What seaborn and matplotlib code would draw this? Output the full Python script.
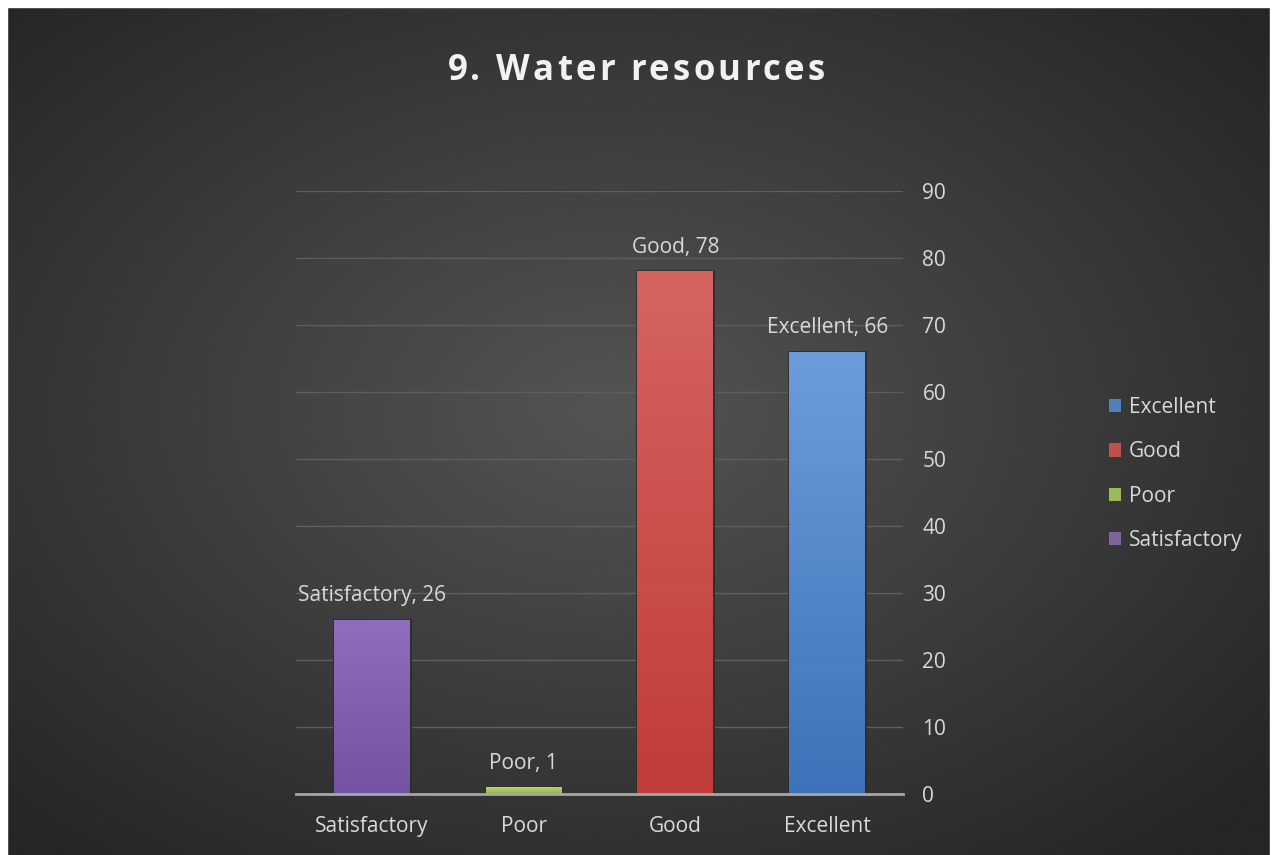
"""
Water resources rating - bar chart recreation
"""
import numpy as np
import pandas as pd
import matplotlib
matplotlib.use("Agg")
import matplotlib.pyplot as plt
from matplotlib.patches import Patch, Rectangle
import seaborn as sns

# data
categories = ["Satisfactory", "Poor", "Good", "Excellent"]
counts = [26, 1, 78, 66]
legend_order = ["Excellent", "Good", "Poor", "Satisfactory"]
y_ticks = [0, 10, 20, 30, 40, 50, 60, 70, 80, 90]
title = "9. Water resources"

# top / bottom colours of each bar's gradient
top_colors = {"Satisfactory": "#906dbe", "Poor": "#b8d26c", "Good": "#d5645f", "Excellent": "#6c9cda"}
bottom_colors = {"Satisfactory": "#7453a0", "Poor": "#94b54f", "Good": "#c03d39", "Excellent": "#3e73b9"}
flat_colors = {"Satisfactory": "#8064a2", "Poor": "#9bbb59", "Good": "#c0504d", "Excellent": "#4f81bd"}

TEXT = "#d9d9d9"
FS = 15

sns.set_theme(style="dark")
plt.rcParams["font.family"] = ["Open Sans", "DejaVu Sans"]

fig = plt.figure(figsize=(12.73, 8.55), dpi=100)
fig.patch.set_facecolor("#262626")

# background with radial gradient
bg = fig.add_axes([0, 0, 1, 1], zorder=-10)
yy, xx = np.mgrid[0:1:300j, 0:1:450j]
r = np.sqrt(((xx - 0.48) / 0.75) ** 2 + ((yy - 0.52) / 0.75) ** 2)
shade = np.clip(0.33 - 0.19 * r / 0.95, 0.15, 0.33)
bg.imshow(shade, cmap="gray", vmin=0, vmax=1, aspect="auto", extent=[0, 1, 0, 1],
          interpolation="bicubic", origin="lower")
bg.set_xlim(0, 1)
bg.set_ylim(0, 1)
bg.set_axis_off()
# thin white margin on top, left and right
fig.patches.append(Rectangle((0, 848 / 855), 1, 7 / 855, transform=fig.transFigure, color="white", zorder=5))
fig.patches.append(Rectangle((0, 0), 7 / 1273, 1, transform=fig.transFigure, color="white", zorder=5))
fig.patches.append(Rectangle((1270 / 1273, 0), 3 / 1273, 1, transform=fig.transFigure, color="white", zorder=5))

df = pd.DataFrame({"category": categories, "count": counts})

ax = fig.add_axes([296 / 1273, 61 / 855, 607 / 1273, 603 / 855])
ax.set_facecolor("none")
sns.barplot(data=df, x="category", y="count", hue="category", order=categories,
            palette=flat_colors, width=0.5, legend=False, ax=ax,
            edgecolor="#2e2e2e", linewidth=2)

# vertical gradient inside each bar
for patch, cat in zip(ax.patches, categories):
    x0, y0 = patch.get_x(), patch.get_y()
    w, h = patch.get_width(), patch.get_height()
    c1 = np.array(matplotlib.colors.to_rgb(top_colors[cat]))
    c2 = np.array(matplotlib.colors.to_rgb(bottom_colors[cat]))
    t = np.linspace(0, 1, 100)[:, None]
    grad = (c1 * (1 - t) + c2 * t)[:, None, :]
    im = ax.imshow(grad, extent=[x0, x0 + w, y0, y0 + h], aspect="auto", zorder=patch.get_zorder() + 0.1)
    im.set_clip_path(patch)

ax.set_xlim(-0.5, len(categories) - 0.5)
ax.set_ylim(0, 90)
ax.set_yticks(y_ticks)
ax.yaxis.tick_right()
ax.grid(axis="y", color="#5e5e5e", linewidth=1)
ax.grid(axis="x", visible=False)
ax.set_axisbelow(True)
for s in ["top", "left", "right"]:
    ax.spines[s].set_visible(False)
ax.spines["bottom"].set_color("#a6a6a6")
ax.spines["bottom"].set_linewidth(2)
ax.spines["bottom"].set_zorder(5)
ax.tick_params(axis="both", length=0, labelsize=FS, colors=TEXT)
ax.tick_params(axis="y", pad=14)
ax.tick_params(axis="x", pad=16)
ax.set_xlabel("")
ax.set_ylabel("")

# data labels
for i, (cat, v) in enumerate(zip(categories, counts)):
    ax.text(i, v + 2.0, f"{cat}, {v}", ha="center", va="bottom", fontsize=FS, color=TEXT)

# title with letter spacing: place each character
renderer = fig.canvas.get_renderer()
spacing = 3.2  # px between letters
pieces = []
for ch in title:
    t = fig.text(0, 1 - 71 / 855, ch, ha="left", va="center", fontsize=25,
                 fontweight="bold", color="#f2f2f2")
    pieces.append(t)
widths = []
for t, ch in zip(pieces, title):
    if ch == " ":
        widths.append(renderer.points_to_pixels(25) * 0.26)
    else:
        widths.append(t.get_window_extent(renderer).width)
total = sum(widths) + spacing * (len(title) - 1)
x = 636 - total / 2
for t, w in zip(pieces, widths):
    t.set_x(x / 1273)
    x += w + spacing

# legend
handles = [Patch(facecolor=flat_colors[c], edgecolor="none", label=c) for c in legend_order]
leg = fig.legend(handles=handles, loc="center left", bbox_to_anchor=(1090 / 1273, 1 - 474 / 855),
                 frameon=False, fontsize=FS, handlelength=0.6, handleheight=0.6,
                 handletextpad=0.35, labelspacing=1.12)
for t in leg.get_texts():
    t.set_color(TEXT)

fig.savefig("out.png", dpi=100, facecolor=fig.get_facecolor())
